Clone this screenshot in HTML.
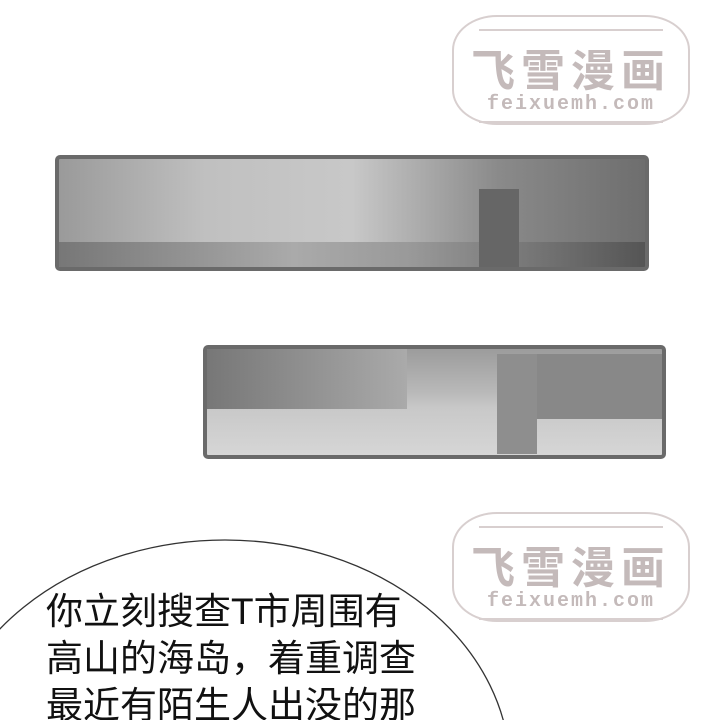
<!DOCTYPE html>
<html><head><meta charset="utf-8"><style>
html,body{margin:0;width:720px;height:720px;overflow:hidden}
body{background:#fff;position:relative;font-family:"Liberation Sans","Noto Sans CJK SC",sans-serif}
#page{position:absolute;left:0;top:0;width:720px;height:720px;overflow:hidden}
.wm{position:absolute;width:238px;height:110px;border:2px solid #d8cfcf;border-radius:45px/35px;box-sizing:border-box}
.wm .t{position:absolute;left:0;width:100%;text-align:center;color:#c4baba;font-size:44px;font-weight:bold;top:18px;letter-spacing:6px}
.wm .u{position:absolute;left:0;width:100%;text-align:center;color:#c4baba;font-family:"Liberation Mono",monospace;font-size:20px;font-weight:bold;top:76px;letter-spacing:2px}
.wm .l{position:absolute;left:25px;right:25px;height:2px;background:#d8cfcf}
.panel{position:absolute;border:4px solid #6a6a6a;border-radius:5px;box-sizing:border-box;overflow:hidden}
</style></head><body><div id="page">
<div class="wm" style="left:452px;top:15px"><div class="l" style="top:12px"></div><div class="t">飞雪漫画</div><div class="u">feixuemh.com</div><div class="l" style="top:104px"></div></div>
<div class="panel" style="left:55px;top:155px;width:594px;height:116px;background:linear-gradient(90deg,#9a9a9a 0%,#c0c0c0 25%,#c8c8c8 50%,#8a8a8a 75%,#6e6e6e 100%)">
<div style="position:absolute;left:0;right:0;bottom:0;height:25px;background:linear-gradient(90deg,#777,#aaa 40%,#999 60%,#555)"></div>
<div style="position:absolute;left:420px;top:30px;width:40px;height:80px;background:#666"></div></div>
<div class="panel" style="left:203px;top:345px;width:463px;height:114px;background:linear-gradient(180deg,#9c9c9c 0%,#b8b8b8 40%,#c8c8c8 55%,#d6d6d6 100%)">
<div style="position:absolute;left:0;top:0;width:200px;height:60px;background:linear-gradient(90deg,#777,#aaa)"></div>
<div style="position:absolute;left:320px;top:5px;width:135px;height:65px;background:#888"></div>
<div style="position:absolute;left:290px;top:5px;width:40px;height:100px;background:#8e8e8e"></div></div>
<div class="wm" style="left:452px;top:512px"><div class="l" style="top:12px"></div><div class="t">飞雪漫画</div><div class="u">feixuemh.com</div><div class="l" style="top:104px"></div></div>
<svg style="position:absolute;left:0;top:0" width="720" height="720"><ellipse cx="225" cy="770" rx="285" ry="230" fill="#fff" stroke="#333" stroke-width="1.3"/></svg>
<div style="position:absolute;left:46px;top:588px;height:132px;overflow:hidden;font-size:37px;line-height:47px;color:#111;white-space:nowrap">你立刻搜查T市周围有<br>高山的海岛，着重调查<br>最近有陌生人出没的那</div>
</div></body></html>
